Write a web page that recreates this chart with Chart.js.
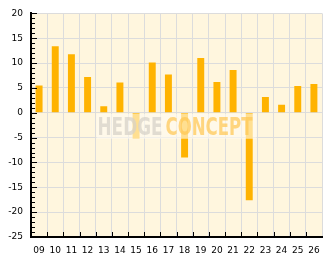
<!DOCTYPE html>
<html>
<head>
<meta charset="utf-8">
<script src="https://cdn.jsdelivr.net/npm/chart.js@4/dist/chart.umd.min.js"></script>
<style>
html,body{margin:0;padding:0;background:#fff;}
#wrap{position:relative;width:332px;height:269px;}
</style>
</head>
<body>
<div id="wrap"><canvas id="c" width="332" height="269"></canvas></div>
<script>
const categories = ["09","10","11","12","13","14","15","16","17","18","19","20","21","22","23","24","25","26"];
const values = [5.5, 13.4, 11.8, 7.2, 1.3, 6.1, -5.2, 10.1, 7.7, -9.0, 11.0, 6.2, 8.6, -17.6, 3.2, 1.6, 5.4, 5.8];
const yMin = -25, yMax = 20, yStep = 5;
const watermarkWords = ["HEDGE", "CONCEPT"];

const FONT = "'DejaVu Sans'";

const bgPlugin = {
  id: 'bg',
  beforeDraw(chart) {
    const {ctx, chartArea: a} = chart;
    ctx.save();
    ctx.fillStyle = '#FFF6DE';
    ctx.fillRect(a.left, a.top, a.right - a.left, a.bottom - a.top);
    ctx.restore();
  },
  afterDatasetsDraw(chart) {
    const {ctx, chartArea: a} = chart;
    const cx = (a.left + a.right) / 2;
    const ys = chart.scales.y;
    const base = ys.getPixelForValue(0);
    ctx.save();
    ctx.fillStyle = 'rgba(255,252,242,0.6)';
    ctx.fillRect(cx - 80, base + 1, 160, 25);
    ctx.font = "bold 25px 'DejaVu Sans Condensed'";
    ctx.textBaseline = 'alphabetic';
    ctx.textAlign = 'left';
    ctx.fillStyle = 'rgba(215,210,200,0.75)';
    ctx.fillText(watermarkWords[0], cx - 79, base + 22, 65);
    ctx.fillStyle = 'rgba(255,198,80,0.7)';
    ctx.fillText(watermarkWords[1], cx - 11, base + 22, 87);
    ctx.restore();
  },
  afterDraw(chart) {
    const {ctx, chartArea: a} = chart;
    const ys = chart.scales.y, xs = chart.scales.x;
    ctx.save();
    ctx.strokeStyle = '#000';
    ctx.lineWidth = 1;
    ctx.beginPath();
    for (let v = yMin; v <= yMax; v++) {
      const y = Math.round(ys.getPixelForValue(v)) + 0.5;
      const len = (v % yStep === 0) ? 6 : 4;
      ctx.moveTo(a.left, y);
      ctx.lineTo(a.left + len, y);
    }
    const n = categories.length;
    for (let i = 1; i < n; i++) {
      const x = Math.round((xs.getPixelForValue(i - 1) + xs.getPixelForValue(i)) / 2) + 0.5;
      ctx.moveTo(x, a.bottom);
      ctx.lineTo(x, a.bottom - 5);
    }
    ctx.stroke();
    ctx.restore();
  }
};

new Chart(document.getElementById('c'), {
  type: 'bar',
  data: {
    labels: categories,
    datasets: [{
      data: values,
      backgroundColor: '#FFB300',
      borderWidth: 0,
      barPercentage: 0.43,
      categoryPercentage: 1.0
    }]
  },
  options: {
    responsive: false,
    animation: false,
    devicePixelRatio: 1,
    layout: { padding: { top: 11, right: 10, left: 0, bottom: 0 } },
    plugins: { legend: { display: false }, tooltip: { enabled: false } },
    scales: {
      x: {
        offset: true,
        grid: { offset: true, color: '#DCDCDC', lineWidth: 1, drawTicks: false },
        border: { color: '#000', width: 2 },
        ticks: { color: '#000', font: { family: FONT, size: 9 }, padding: 8, maxRotation: 0, autoSkip: false },
        afterFit(s) { s.height = 32; }
      },
      y: {
        min: yMin, max: yMax,
        grid: { color: '#DCDCDC', lineWidth: 1, drawTicks: false },
        border: { color: '#000', width: 2 },
        ticks: { stepSize: yStep, color: '#000', font: { family: FONT, size: 9 }, padding: 8 },
        afterFit(s) { s.width = 31; }
      }
    }
  },
  plugins: [bgPlugin]
});
</script>
</body>
</html>
